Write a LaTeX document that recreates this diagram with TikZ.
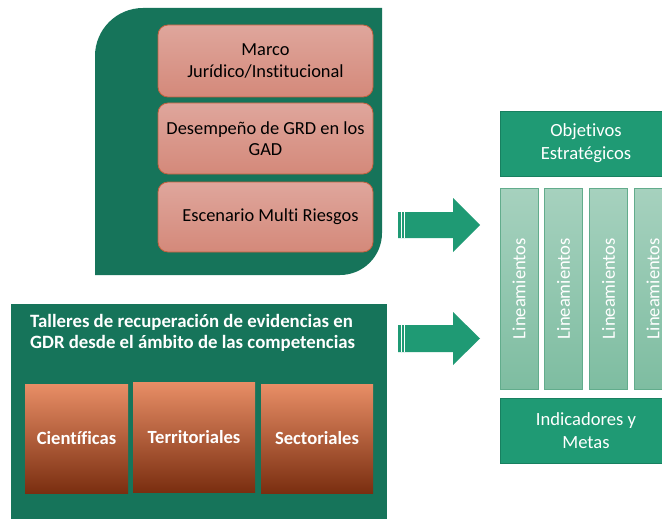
\documentclass[tikz,border=0pt]{standalone}
\usepackage{fontspec}
\setmainfont{Carlito}[Ligatures=NoCommon]
\definecolor{gdark}{RGB}{22,116,90}
\definecolor{gmid}{RGB}{31,154,116}
\definecolor{gmidline}{RGB}{24,128,96}
\definecolor{glighttop}{RGB}{166,209,190}
\definecolor{glightbot}{RGB}{126,189,161}
\definecolor{glightline}{RGB}{98,172,140}
\definecolor{pinktop}{RGB}{223,166,156}
\definecolor{pinkbot}{RGB}{212,137,122}
\definecolor{pinkline}{RGB}{196,96,62}
\definecolor{orgtop}{RGB}{232,142,102}
\definecolor{orgmid}{RGB}{186,76,32}
\definecolor{orgbot}{RGB}{122,46,16}

\begin{document}
\begin{tikzpicture}[x=1pt,y=-1pt,
  pinkbox/.style={draw=pinkline,line width=0.8pt,rounded corners=10pt,top color=pinktop,bottom color=pinkbot,minimum width=215pt,inner sep=0pt,text=black,align=center,font=\fontsize{18.4}{21.5}\selectfont},
  orgbox/.style={top color=orgtop,middle color=orgmid,bottom color=orgbot,inner sep=0pt,text=white,font=\fontsize{18.6}{22}\selectfont\bfseries},
  greenbox/.style={fill=gmid,draw=gmidline,line width=0.6pt,minimum width=172pt,minimum height=65pt,inner sep=0pt,text=white,align=center,font=\fontsize{18.6}{23}\selectfont},
  colbox/.style={top color=glighttop,bottom color=glightbot,draw=glightline,line width=0.6pt,minimum width=38pt,minimum height=201pt,inner sep=0pt,text=white,font=\fontsize{18.6}{21}\selectfont},
  blockarrow/.style={fill=gmid}]
\useasboundingbox (0,0) rectangle (662,519);
\fill[white] (0,0) rectangle (662,519);
\clip (0,0) rectangle (662,519);

\fill[gdark] (95,275) -- (95,56) .. controls (95,29.5) and (116.5,8) .. (143,8) -- (382,8)
  -- (382,233) .. controls (382,256.2) and (363.2,275) .. (340,275) -- cycle;
\node (marco) at (265.5,61) [pinkbox,minimum height=72pt] {Marco\\ Jurídico/Institucional};
\node (desempeno) at (265.5,138.5) [pinkbox,minimum height=71pt] {Desempeño de GRD en los\\GAD};
\node (escenario) at (265.5,217) [pinkbox,minimum height=70pt] {\hspace*{10pt}Escenario Multi Riesgos};

\fill[gdark] (11,304) rectangle (387,522);
\node (talleres) at (30,314) [anchor=north west,inner sep=0pt,align=left,text=white,font=\fontsize{18.8}{21.5}\selectfont\bfseries] {Talleres de recuperación de evidencias en\\GDR desde el ámbito de las competencias};
\node (cientificas) at (76.5,438.5) [orgbox,minimum width=103pt,minimum height=109pt] {\raisebox{-2pt}{Científicas}};
\node (territoriales) at (194,437) [orgbox,minimum width=122pt,minimum height=110pt] {Territoriales};
\node (sectoriales) at (317,438.5) [orgbox,minimum width=112pt,minimum height=109pt] {\raisebox{-2pt}{Sectoriales}};

\foreach \cy/\sh/\hh in {225/13/27,338.5/13.5/26.5} {
  \fill[blockarrow] (398,\cy-\sh) -- (453,\cy-\sh) -- (453,\cy-\hh) -- (480,\cy)
    -- (453,\cy+\hh) -- (453,\cy+\sh) -- (398,\cy+\sh) -- cycle;
  \draw[white,line width=0.7pt] (401,\cy-\sh) -- (401,\cy+\sh) (404,\cy-\sh) -- (404,\cy+\sh);
}

\node (objetivos) at (586,143.5) [greenbox] {Objetivos\\Estratégicos};
\foreach \i/\xc in {1/519,2/563.5,3/608.5,4/653}
  \node (lin\i) at (\xc,287) [colbox,yshift=-1.5pt] {\rotatebox{90}{Lineamientos}};
\node (indicadores) at (586,430.5) [greenbox] {Indicadores y\\Metas};
\end{tikzpicture}
\end{document}
